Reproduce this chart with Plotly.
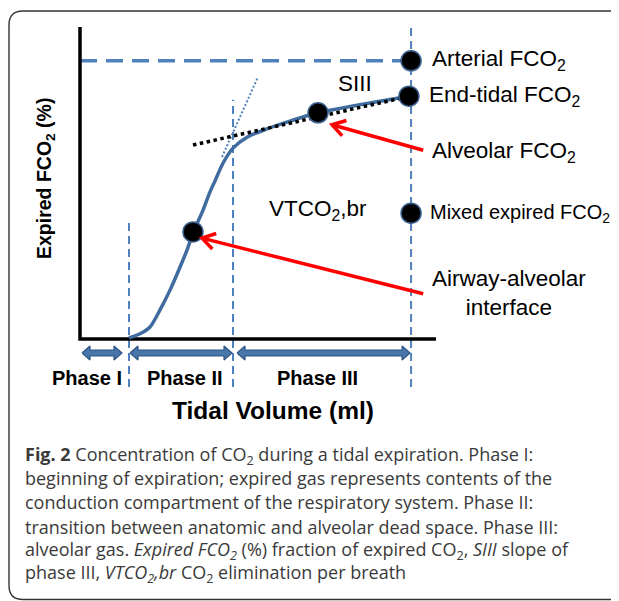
import math
import plotly.graph_objects as go

# ---------------- data ----------------
curve_volume = [68.8, 84.3, 98.3, 112.4, 126.4, 140.4, 150.3, 158.7, 172.8, 182.6, 189.6,
                200.8, 214.9, 234.6, 262.6, 294.9, 334.3, 462.0]
curve_fco2 = [0.02, 0.10, 0.23, 0.56, 0.94, 1.38, 1.71, 2.04, 2.48, 2.83, 3.04,
              3.38, 3.67, 3.88, 4.04, 4.19, 4.35, 4.67]

point_labels = ["Arterial FCO<sub>2</sub>", "End-tidal FCO<sub>2</sub>", "Alveolar FCO<sub>2</sub>",
                "Mixed expired FCO<sub>2</sub>", "Airway-alveolar<br>interface"]
point_volume = [465.0, 462.0, 334.3, 465.0, 158.7]
point_fco2 = [5.35, 4.67, 4.35, 2.42, 2.06]

phase_labels = ["Phase I", "Phase II", "Phase III"]
phase_bounds = [0.0, 68.8, 214.9, 465.0]
boundary_top_fco2 = [2.25, 4.60, 5.98]

siii_volume = [158.7, 463.5]
siii_fco2 = [3.73, 4.67]

phase2_volume = [199.4, 250.0]
phase2_fco2 = [3.50, 5.04]

# red arrows: alveolar, airway-alveolar interface
arrow_tail_volume = [482.0, 482.0]
arrow_tail_fco2 = [3.63, 0.87]
arrow_tip_volume = [354.0, 171.3]
arrow_tip_fco2 = [4.12, 1.94]

axis_max_volume = 500.0
axis_max_fco2 = 6.0

caption_lines = [
    "<b>Fig. 2</b> Concentration of CO<sub>2</sub> during a tidal expiration. Phase I:",
    "beginning of expiration; expired gas represents contents of the",
    "conduction compartment of the respiratory system. Phase II:",
    "transition between anatomic and alveolar dead space. Phase III:",
    "alveolar gas. <i>Expired FCO<sub>2</sub></i> (%) fraction of expired CO<sub>2</sub>, <i>SIII</i> slope of",
    "phase III, <i>VTCO<sub>2</sub>,br</i> CO<sub>2</sub> elimination per breath",
]

# ---------------- layout frame ----------------
OFF = 8                     # page body margin
PAGE_W, PAGE_H = 619, 601
W, H = PAGE_W - OFF, PAGE_H - OFF
X0_PX, X1_PX = 80, 436
Y0_PX, Y1_PX = 339, 27
ppx = (X1_PX - X0_PX) / axis_max_volume
ppy = (Y0_PX - Y1_PX) / axis_max_fco2
x_range = [(OFF - X0_PX) / ppx, (OFF + W - X0_PX) / ppx]
y_range = [(Y0_PX - (OFF + H)) / ppy, (Y0_PX - OFF) / ppy]


def to_px(v, f):
    return X0_PX + v * ppx, Y0_PX - f * ppy


def to_data(px, py):
    return (px - X0_PX) / ppx, (Y0_PX - py) / ppy


def pxp(px):
    return (px - OFF) / W


def pyp(py):
    return 1 - (py - OFF) / H


FONT = "Liberation Sans, Arial, sans-serif"
CAP_FONT = "Open Sans, Noto Sans, sans-serif"
DASH_BLUE = "#4F81BD"
CURVE_BLUE = "#3F6B9F"

fig = go.Figure()

# vertical phase boundary lines
below = to_data(0, Y0_PX + 48)[1]
for xb, top in zip(phase_bounds[1:], boundary_top_fco2):
    fig.add_trace(go.Scatter(x=[xb, xb], y=[below, top], mode="lines",
                             line=dict(color=DASH_BLUE, width=2, dash="8px,5px"),
                             hoverinfo="skip", showlegend=False))

# arterial horizontal dashed line
fig.add_trace(go.Scatter(x=[0, point_volume[0]], y=[point_fco2[0], point_fco2[0]], mode="lines",
                         line=dict(color=DASH_BLUE, width=3.5, dash="17px,9px"),
                         hoverinfo="skip", showlegend=False))

# axes
fig.add_trace(go.Scatter(x=[0, 0, axis_max_volume], y=[axis_max_fco2, 0, 0], mode="lines",
                         line=dict(color="black", width=3.5), hoverinfo="skip", showlegend=False))

# capnogram curve
fig.add_trace(go.Scatter(x=curve_volume, y=curve_fco2, mode="lines",
                         line=dict(color=CURVE_BLUE, width=3.5, shape="spline", smoothing=0.8),
                         hoverinfo="skip", showlegend=False))

# phase II tangent
fig.add_trace(go.Scatter(x=phase2_volume, y=phase2_fco2, mode="lines",
                         line=dict(color=DASH_BLUE, width=2, dash="2px,2px"),
                         hoverinfo="skip", showlegend=False))
# SIII tangent
fig.add_trace(go.Scatter(x=siii_volume, y=siii_fco2, mode="lines",
                         line=dict(color="black", width=3.5, dash="dot"),
                         hoverinfo="skip", showlegend=False))

# points
fig.add_trace(go.Scatter(x=point_volume, y=point_fco2, mode="markers",
                         marker=dict(size=20, color="black", line=dict(color="#3A6090", width=1.5)),
                         hoverinfo="skip", showlegend=False))

# red arrows
for tv, tf, hv, hf in zip(arrow_tail_volume, arrow_tail_fco2, arrow_tip_volume, arrow_tip_fco2):
    fig.add_trace(go.Scatter(x=[tv, hv], y=[tf, hf], mode="lines",
                             line=dict(color="#FF0000", width=3.5),
                             hoverinfo="skip", showlegend=False))
    tx, ty = to_px(hv, hf)
    sx, sy = to_px(tv, tf)
    ang = math.atan2(sy - ty, sx - tx)
    xs, ys = [], []
    for a in (ang + math.radians(32), None, ang - math.radians(32)):
        p = (tx, ty) if a is None else (tx + 15 * math.cos(a), ty + 15 * math.sin(a))
        d = to_data(*p)
        xs.append(d[0]); ys.append(d[1])
    fig.add_trace(go.Scatter(x=xs, y=ys, mode="lines",
                             line=dict(color="#FF0000", width=3.5),
                             hoverinfo="skip", showlegend=False))

# phase double arrows
inset_start = [2, 1, 4]
inset_end = [7, 1, 1]
yc = Y0_PX + 14
hl, hh, sh = 8, 7, 3
for i in range(3):
    xs_px = to_px(phase_bounds[i], 0)[0] + inset_start[i]
    xe_px = to_px(phase_bounds[i + 1], 0)[0] - inset_end[i]
    poly = [(xs_px, yc), (xs_px + hl, yc - hh), (xs_px + hl, yc - sh), (xe_px - hl, yc - sh),
            (xe_px - hl, yc - hh), (xe_px, yc), (xe_px - hl, yc + hh), (xe_px - hl, yc + sh),
            (xs_px + hl, yc + sh), (xs_px + hl, yc + hh), (xs_px, yc)]
    d = [to_data(*p) for p in poly]
    fig.add_trace(go.Scatter(x=[p[0] for p in d], y=[p[1] for p in d], mode="lines",
                             fill="toself", fillcolor="#4A77AB",
                             line=dict(color="#2F5583", width=1.2),
                             hoverinfo="skip", showlegend=False))

annotations = []
LBL = dict(family=FONT, size=22.5, color="black")
# phase labels
label_shift = [-17, 4, -5]
for i, lab in enumerate(phase_labels):
    mid = (phase_bounds[i] + phase_bounds[i + 1]) / 2
    annotations.append(dict(x=mid, y=0, xref="x", yref="y", text="<b>%s</b>" % lab, showarrow=False,
                            xanchor="center", yanchor="middle",
                            xshift=label_shift[i], yshift=-39, font=dict(family=FONT, size=20, color="black")))

# point labels
annotations.append(dict(x=point_volume[0], y=point_fco2[0], text=point_labels[0], xanchor="left", yanchor="middle",
                        xshift=19, yshift=1, showarrow=False, font=LBL))
annotations.append(dict(x=point_volume[1], y=point_fco2[1], text=point_labels[1], xanchor="left", yanchor="middle",
                        xshift=18, yshift=0, showarrow=False, font=LBL))
annotations.append(dict(x=arrow_tail_volume[0], y=arrow_tail_fco2[0], text=point_labels[2], xanchor="left",
                        yanchor="middle", xshift=7, yshift=-2, showarrow=False, font=LBL))
annotations.append(dict(x=point_volume[3], y=point_fco2[3], text=point_labels[3], xanchor="left", yanchor="middle",
                        xshift=17, yshift=0, showarrow=False, font=dict(family=FONT, size=20, color="black")))
annotations.append(dict(x=arrow_tail_volume[1], y=arrow_tail_fco2[1], text=point_labels[4], xanchor="left",
                        yanchor="middle", align="center", xshift=7, yshift=1, showarrow=False, font=LBL))
annotations.append(dict(x=386, y=4.92, text="SIII", showarrow=False, xanchor="center", yanchor="middle", font=LBL))
annotations.append(dict(x=334, y=2.48, text="VTCO<sub>2</sub>,br", showarrow=False, xanchor="center",
                        yanchor="middle", font=LBL))

# axis titles
annotations.append(dict(x=pxp(45), y=pyp(179), xref="paper", yref="paper", text="<b>Expired FCO<sub>2</sub> (%)</b>",
                        textangle=-90, xanchor="center", yanchor="middle", showarrow=False,
                        font=dict(family=FONT, size=19.5, color="black")))
annotations.append(dict(x=pxp(273), y=pyp(410), xref="paper", yref="paper", text="<b>Tidal Volume (ml)</b>",
                        xanchor="center", yanchor="middle", showarrow=False,
                        font=dict(family=FONT, size=24.5, color="black")))

# caption
cap_y = [455, 478, 502, 527, 550, 573]
for txt, cy in zip(caption_lines, cap_y):
    annotations.append(dict(x=pxp(23), y=pyp(cy), xref="paper", yref="paper", text=txt, xanchor="left",
                            yanchor="middle", showarrow=False, font=dict(family=CAP_FONT, size=18, color="#3a3a3a")))

# border (rounded)
bx0, by0, bx1, by1, r = 9, 11, 640, 599.5, 14


def P(x, y):
    return "%.5f,%.5f" % (pxp(x), pyp(y))


path = ("M " + P(bx1, by0) + " L " + P(bx0 + r, by0) + " Q " + P(bx0, by0) + " " + P(bx0, by0 + r) +
        " L " + P(bx0, by1 - r) + " Q " + P(bx0, by1) + " " + P(bx0 + r, by1) + " L " + P(bx1, by1))
shapes = [dict(type="path", xref="paper", yref="paper", path=path, line=dict(color="#333333", width=1.4))]

fig.update_layout(
    width=W, height=H, autosize=False,
    margin=dict(l=0, r=0, t=0, b=0, pad=0),
    paper_bgcolor="white", plot_bgcolor="white",
    xaxis=dict(range=x_range, visible=False, fixedrange=True),
    yaxis=dict(range=y_range, visible=False, fixedrange=True),
    annotations=annotations, shapes=shapes,
    showlegend=False,
)

fig.write_html("out.html", config={"displayModeBar": False})
